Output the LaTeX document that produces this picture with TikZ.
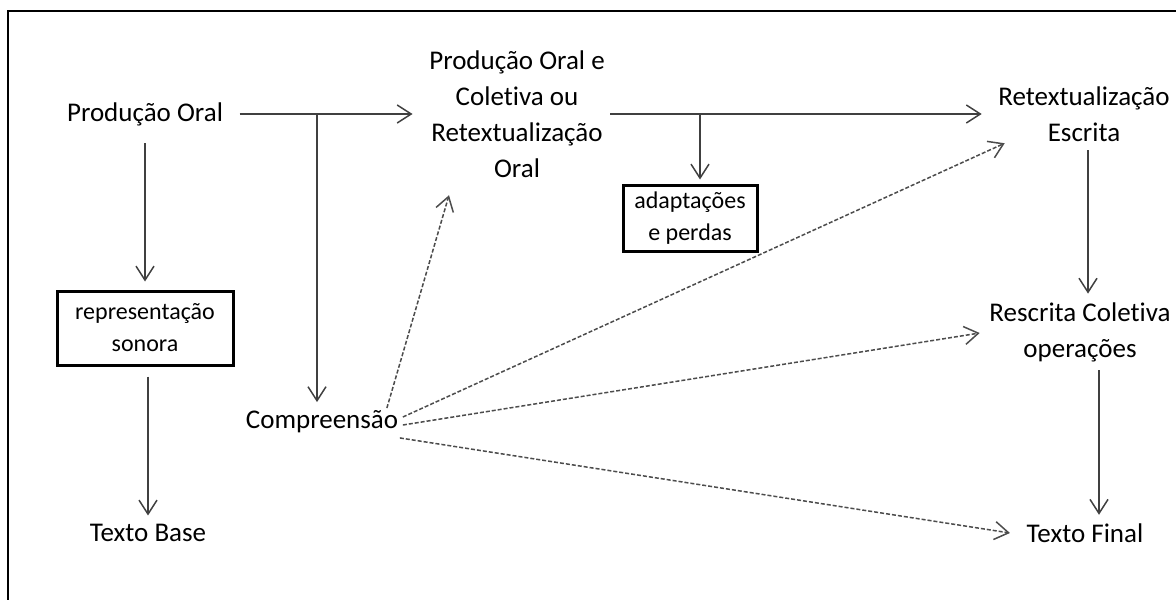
\documentclass[tikz,border=0pt]{standalone}
\usepackage{fontspec}
\setmainfont{Carlito}[Ligatures=NoCommon]
\usepackage{tikz}
\usetikzlibrary{arrows.meta,calc}

\begin{document}
\begin{tikzpicture}[x=0.5pt,y=-0.5pt,line width=0.75pt,
  >={Straight Barb[length=7pt,width=9pt]},
  txt/.style={inner xsep=8pt,inner ysep=4pt,align=center,font=\fontsize{13.5}{18}\selectfont},
  caixa/.style={draw=black,line width=1.5pt,align=center,font=\fontsize{12}{16}\selectfont},
  seta/.style={->,draw=black!75},
  tracejado/.style={->,draw=black!70,dash pattern=on 2pt off 1pt}]
\clip (0,0) rectangle (1176,599);
\draw[line width=1.1pt] (8,11) rectangle (1200,650);
\node[txt] (1) at (145,114) {Produção Oral};
\node[caixa,minimum width=88pt,minimum height=37pt] (2) at (145,328) {representação\\sonora};
\node[txt] (3) at (148,533) {Texto Base};
\node[txt] (4) at (517,114) {Produção Oral e\\Coletiva ou\\Retextualização\\Oral};
\node[caixa,minimum width=67pt,minimum height=33pt] (5) at (690,218) {adaptações\\e perdas};
\node[txt,inner xsep=2pt] (6) at (322,422) {Compreensão};
\node[txt] (7) at (1084,114) {Retextualização\\Escrita};
\node[txt] (8) at (1080,332) {Rescrita Coletiva\\operações};
\node[txt] (9) at (1085,533) {Texto Final};
\coordinate (j1) at (317,114);
\coordinate (j2) at (700,114);
\draw[seta,shorten <=4.5pt,shorten >=4pt] (1) -- (2);
\draw[seta,shorten <=5pt] (2.south -| 3) -- (3);
\draw[seta] (1) -- (4);
\draw[seta] (j1) -- (j1 |- 6.north);
\draw[seta,shorten <=-5.5pt] (4) -- (7);
\draw[seta,shorten >=2pt] (j2) -- (j2 |- 5.north);
\draw[seta] ($(7.south)+(4,0)$) -- ($(7.south |- 8.north)+(4,0)$);
\draw[seta] ($(8.south)+(19,0)$) -- ($(8.south |- 9.north)+(19,0)$);
\draw[tracejado] ($(6.north east)+(-16,6)$) -- ($(4.south)+(-68,9)$);
\draw[tracejado] ($(6.east)+(0,-5)$) -- ($(7.south west)+(23,-7)$);
\draw[tracejado] ($(6.east)+(0,3)$) -- ($(8.west)+(7,1)$);
\draw[tracejado] ($(6.south east)+(-3,-4)$) -- (9.west);
\end{tikzpicture}
\end{document}
